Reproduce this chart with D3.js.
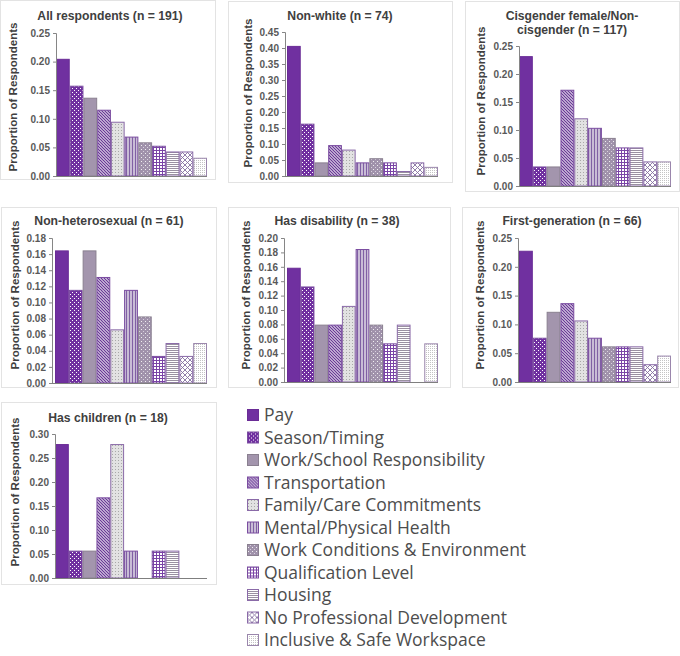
<!DOCTYPE html>
<html>
<head>
<meta charset="utf-8">
<script src="https://cdn.jsdelivr.net/npm/d3@7"></script>
<style>
  body { margin: 0; background: #fff; }
  svg { display: block; }
  .title { font-family: "Liberation Sans", Arial, sans-serif; font-weight: bold; font-size: 12.2px; fill: #404040; }
  .ylab { font-family: "Liberation Sans", Arial, sans-serif; font-weight: bold; font-size: 11.5px; fill: #404040; }
  .yaxis text { font-family: "Liberation Sans", Arial, sans-serif; font-weight: bold; font-size: 10px; fill: #595959; }
  .legend text { font-family: "Open Sans", sans-serif; font-size: 17.5px; fill: #4d4d4d; }
</style>
</head>
<body>
<div id="chart"></div>
<script>
// categories (one bar per reason)
const categories = ["Pay", "Season/Timing", "Work/School Responsibility", "Transportation",
  "Family/Care Commitments", "Mental/Physical Health", "Work Conditions & Environment",
  "Qualification Level", "Housing", "No Professional Development", "Inclusive & Safe Workspace"];

const titles = [
  ["All respondents (n = 191)"],
  ["Non-white (n = 74)"],
  ["Cisgender female/Non-", "cisgender (n = 117)"],
  ["Non-heterosexual (n = 61)"],
  ["Has disability (n = 38)"],
  ["First-generation (n = 66)"],
  ["Has children (n = 18)"]
];

// proportions
const allRespondents = [0.204, 0.157, 0.136, 0.115, 0.094, 0.068, 0.058, 0.052, 0.042, 0.042, 0.031];
const nonWhite       = [0.405, 0.162, 0.041, 0.095, 0.081, 0.041, 0.054, 0.041, 0.014, 0.041, 0.027];
const cisFemale      = [0.231, 0.034, 0.034, 0.171, 0.120, 0.103, 0.085, 0.068, 0.068, 0.043, 0.043];
const nonHetero      = [0.164, 0.115, 0.164, 0.131, 0.066, 0.115, 0.082, 0.033, 0.049, 0.033, 0.049];
const hasDisability  = [0.158, 0.132, 0.079, 0.079, 0.105, 0.184, 0.079, 0.053, 0.079, 0.000, 0.053];
const firstGen       = [0.227, 0.076, 0.121, 0.136, 0.106, 0.076, 0.061, 0.061, 0.061, 0.030, 0.045];
const hasChildren    = [0.278, 0.056, 0.056, 0.167, 0.278, 0.056, 0.000, 0.056, 0.056, 0.000, 0.000];

const seriesValues = [allRespondents, nonWhite, cisFemale, nonHetero, hasDisability, firstGen, hasChildren];

// y axis maximum and tick step for each panel
const yMax  = [0.25, 0.45, 0.25, 0.18, 0.20, 0.25, 0.30];
const yStep = [0.05, 0.05, 0.05, 0.02, 0.02, 0.05, 0.05];

// panel geometry
const panels = [
  {frame: [0, 0, 215, 179],   ax: 56,  top: 33,  bot: 176, x0: 56,  x1: 207, tx: 110, ty: 16,  lx: 13,  ly: 97},
  {frame: [228, 1, 224, 181], ax: 285, top: 32,  bot: 176, x0: 287, x1: 438, tx: 340, ty: 16,  lx: 248, ly: 93},
  {frame: [465, 1, 214, 190], ax: 519, top: 46,  bot: 186, x0: 519, x1: 671, tx: 572, ty: 16,  lx: 481, ly: 101},
  {frame: [1, 207, 215, 180], ax: 52,  top: 238, bot: 383, x0: 55,  x1: 207, tx: 109, ty: 221, lx: 15,  ly: 295},
  {frame: [228, 207, 222, 180], ax: 284, top: 238, bot: 382, x0: 287, x1: 438, tx: 337, ty: 221, lx: 246, ly: 295},
  {frame: [462, 207, 216, 180], ax: 518, top: 238, bot: 382, x0: 519, x1: 671, tx: 572, ty: 221, lx: 480, ly: 295},
  {frame: [1, 402, 215, 182], ax: 55,  top: 434, bot: 578, x0: 55,  x1: 207, tx: 108, ty: 418, lx: 15,  ly: 492}
];

const svg = d3.select("#chart")
    .append("svg")
    .attr("width", 680)
    .attr("height", 656);

const defs = svg.append("defs");

function makePattern(id, w, h, bg, draw) {
    const p = defs.append("pattern")
        .attr("id", id)
        .attr("patternUnits", "userSpaceOnUse")
        .attr("width", w)
        .attr("height", h);
    p.append("rect").attr("width", w).attr("height", h).attr("fill", bg);
    draw(p);
}

const purple = "#7030a0";

makePattern("p1", 4, 4, purple, p => {
    p.append("rect").attr("x", 0).attr("y", 0).attr("width", 1).attr("height", 1).attr("fill", "#fff");
    p.append("rect").attr("x", 2).attr("y", 2).attr("width", 1).attr("height", 1).attr("fill", "#fff");
});
makePattern("p3", 3, 3, "#fff", p => {
    p.append("path").attr("d", "M0,0L3,3M-1,2L1,4M2,-1L4,1").attr("stroke", "#6a3a96").attr("stroke-width", 1.3);
});
makePattern("p4", 3, 3, "#e2e2e2", p => {
    p.append("rect").attr("x", 1).attr("y", 1).attr("width", 1).attr("height", 1).attr("fill", "#a8a8a8");
});
makePattern("p5", 3, 3, "#c9bcd6", p => {
    p.append("rect").attr("x", 0).attr("y", 0).attr("width", 1).attr("height", 3).attr("fill", "#8060a4");
});
makePattern("p6", 4, 4, "#a092ab", p => {
    p.append("rect").attr("x", 1).attr("y", 1).attr("width", 1).attr("height", 1).attr("fill", "#f0f0f0");
    p.append("rect").attr("x", 3).attr("y", 3).attr("width", 1).attr("height", 1).attr("fill", "#d8d0de");
});
makePattern("p7", 3, 3, "#fff", p => {
    p.append("rect").attr("x", 0).attr("y", 0).attr("width", 3).attr("height", 1).attr("fill", "#7a44a6");
    p.append("rect").attr("x", 0).attr("y", 0).attr("width", 1).attr("height", 3).attr("fill", "#7a44a6");
});
makePattern("p8", 4, 4, "#fff", p => {
    p.append("path").attr("d", "M0,1L1,0L2,1L3,0L4,1M0,3L1,2L2,3L3,2L4,3").attr("stroke", "#8e8496").attr("stroke-width", 0.9).attr("fill", "none");
});
makePattern("p9", 5, 5, "#fff", p => {
    p.append("path").attr("d", "M0,0L5,5M5,0L0,5").attr("stroke", "#8670a0").attr("stroke-width", 0.9);
});
makePattern("p10", 2, 2, "#fff", p => {
    p.append("rect").attr("x", 0).attr("y", 0).attr("width", 1).attr("height", 1).attr("fill", "#c4c4c4");
});

const fills = [purple, "url(#p1)", "#a395ad", "url(#p3)", "url(#p4)", "url(#p5)",
    "url(#p6)", "url(#p7)", "url(#p8)", "url(#p9)", "url(#p10)"];
const strokes = ["#6a2c96", "#7a4ca0", "#8a8090", "#7a4ca0", "#8a6aa8", "#7a4ca0",
    "#8a8090", "#7a4ca0", "#8a6aa8", "#8a6aa8", "#9a86ac"];

panels.forEach((pn, i) => {
    const g = svg.append("g");
    const values = seriesValues[i];

    g.append("rect")
        .attr("x", pn.frame[0] + 0.5)
        .attr("y", pn.frame[1] + 0.5)
        .attr("width", pn.frame[2])
        .attr("height", pn.frame[3])
        .attr("fill", "none")
        .attr("stroke", "#e3e3e3");

    const x = d3.scaleBand()
        .domain(categories)
        .range([pn.x0, pn.x1])
        .padding(0);

    const y = d3.scaleLinear()
        .domain([0, yMax[i]])
        .range([pn.bot, pn.top]);

    const ticks = d3.range(0, yMax[i] + yStep[i] / 2, yStep[i]);

    g.selectAll(".bar")
        .data(values)
        .enter()
        .append("rect")
        .attr("class", "bar")
        .attr("x", (d, j) => x(categories[j]) + 0.5)
        .attr("y", d => y(d))
        .attr("width", x.bandwidth() - 1)
        .attr("height", d => y(0) - y(d))
        .attr("fill", (d, j) => fills[j])
        .attr("stroke", (d, j) => strokes[j])
        .attr("stroke-width", 1)
        .attr("display", d => d > 0 ? null : "none");

    const yAxis = g.append("g")
        .attr("class", "yaxis")
        .attr("transform", `translate(${pn.ax}, 0)`)
        .call(d3.axisLeft(y).tickValues(ticks).tickFormat(d3.format(".2f")).tickSize(3).tickPadding(3));
    yAxis.selectAll("path, line").attr("stroke", "#868686");

    const xAxis = g.append("g")
        .attr("transform", `translate(0, ${pn.bot})`)
        .call(d3.axisBottom(x).tickSize(0).tickFormat(""));
    xAxis.select("path").attr("stroke", "#7f7f7f");
    xAxis.select(".domain").attr("d", `M${pn.ax},0.5H${pn.x1}`);

    titles[i].forEach((t, k) => {
        g.append("text")
            .attr("class", "title")
            .attr("x", pn.tx)
            .attr("y", pn.ty + k * 13.5)
            .attr("dy", "0.35em")
            .attr("text-anchor", "middle")
            .text(t);
    });

    g.append("text")
        .attr("class", "ylab")
        .attr("transform", `translate(${pn.lx}, ${pn.ly}) rotate(-90)`)
        .attr("dy", "0.35em")
        .attr("text-anchor", "middle")
        .text("Proportion of Respondents");
});

// legend
const legend = svg.append("g").attr("class", "legend");
categories.forEach((c, j) => {
    const row = legend.append("g").attr("transform", `translate(247, ${415 + j * 22.5})`);
    row.append("rect")
        .attr("x", 0.5).attr("y", -5.5)
        .attr("width", 11).attr("height", 11)
        .attr("fill", fills[j])
        .attr("stroke", strokes[j]);
    row.append("text")
        .attr("x", 17)
        .attr("dy", "0.36em")
        .text(c);
});
</script>
</body>
</html>
